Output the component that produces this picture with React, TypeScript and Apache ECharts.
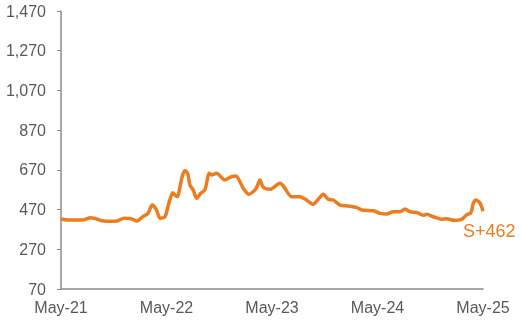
import React, { useEffect, useRef } from "react";
import * as echarts from "echarts";

const dates: string[] = [
  "2021-05-01", "2021-06-01", "2021-07-16", "2021-08-10", "2021-08-27", "2021-09-20",
  "2021-10-24", "2021-11-15", "2021-12-06", "2022-01-02", "2022-01-20", "2022-02-10",
  "2022-02-28", "2022-03-12", "2022-03-26", "2022-04-09", "2022-04-26", "2022-05-09",
  "2022-05-22", "2022-05-30", "2022-06-09", "2022-06-17", "2022-06-26", "2022-07-04",
  "2022-07-13", "2022-07-21", "2022-08-02", "2022-08-14", "2022-08-28", "2022-09-12",
  "2022-09-27", "2022-10-05", "2022-10-22", "2022-11-20", "2022-12-13", "2022-12-28",
  "2023-01-23", "2023-02-12", "2023-03-06", "2023-03-20", "2023-04-01", "2023-04-24",
  "2023-05-28", "2023-06-09", "2023-07-08", "2023-08-06", "2023-08-24", "2023-09-22",
  "2023-10-09", "2023-10-26", "2023-11-13", "2023-11-30", "2023-12-23", "2024-01-21",
  "2024-02-19", "2024-03-07", "2024-04-17", "2024-05-10", "2024-06-02", "2024-06-25",
  "2024-07-18", "2024-08-05", "2024-08-22", "2024-09-15", "2024-10-07", "2024-10-19",
  "2024-11-11", "2024-12-10", "2024-12-27", "2025-01-20", "2025-02-18", "2025-03-05",
  "2025-03-20", "2025-03-28", "2025-04-07", "2025-04-21", "2025-05-01",
];

const spreads: number[] = [
  423, 417, 417, 429, 425, 414,
  411, 414, 426, 423, 412, 434,
  451, 493, 471, 426, 434, 502,
  555, 543, 535, 585, 644, 666,
  653, 594, 569, 527, 552, 569,
  653, 644, 653, 619, 636, 639,
  577, 547, 574, 619, 582, 572,
  602, 590, 535, 535, 523, 497,
  522, 547, 522, 518, 493, 488,
  481, 468, 464, 451, 448, 459,
  459, 473, 459, 455, 441, 446,
  434, 421, 424, 416, 421, 443,
  455, 502, 518, 502, 462,
];

const xTickLabels: string[] = ["May-21", "May-22", "May-23", "May-24", "May-25"];
const endLabel = "S+462";

const toMonthIndex = (d: string): number => {
  const [y, m, day] = d.split("-").map(Number);
  return (y - 2021) * 12 + (m - 5) + (day - 1) / 30;
};

export default function App() {
  const ref = useRef<HTMLDivElement>(null);
  useEffect(() => {
    if (!ref.current) return;
    const chart = echarts.init(ref.current, undefined, { renderer: "svg" });
    const data = dates.map((d, i) => [toMonthIndex(d), spreads[i]]);
    const axisColor = "#8c8c8c";
    const textColor = "#595959";
    chart.setOption({
      animation: false,
      grid: { left: 61, right: 39, top: 11, bottom: 32, containLabel: false },
      xAxis: {
        type: "value",
        min: 0,
        max: 48,
        interval: 12,
        axisLine: { show: true, lineStyle: { color: axisColor, width: 1.5 } },
        axisTick: { show: false },
        splitLine: { show: false },
        axisLabel: {
          color: textColor,
          fontSize: 16,
          fontFamily: "Liberation Sans, Arial, sans-serif",
          margin: 10,
          formatter: (v: number) => xTickLabels[Math.round(v / 12)] ?? "",
        },
      },
      yAxis: {
        type: "value",
        min: 70,
        max: 1470,
        interval: 200,
        axisLine: { show: true, lineStyle: { color: axisColor, width: 1.5 } },
        axisTick: { show: true, inside: false, length: 4, lineStyle: { color: axisColor } },
        splitLine: { show: false },
        axisLabel: {
          color: textColor,
          fontSize: 16,
          fontFamily: "Liberation Sans, Arial, sans-serif",
          margin: 15,
          formatter: (v: number) => v.toLocaleString("en-US"),
        },
      },
      series: [
        {
          type: "line",
          data,
          showSymbol: false,
          smooth: 0.25,
          lineStyle: { color: "#EC7C1E", width: 3.5 },
          itemStyle: { color: "#EC7C1E" },
        },
      ],
      graphic: [
        {
          type: "text",
          left: 463,
          top: 222,
          style: {
            text: endLabel,
            fill: "#EC7C1E",
            fontSize: 18,
            fontFamily: "Liberation Sans, Arial, sans-serif",
          },
        },
      ],
    });
    return () => chart.dispose();
  }, []);
  return <div ref={ref} style={{ width: 522, height: 321, position: "fixed", left: 0, top: 0 }} />;
}
